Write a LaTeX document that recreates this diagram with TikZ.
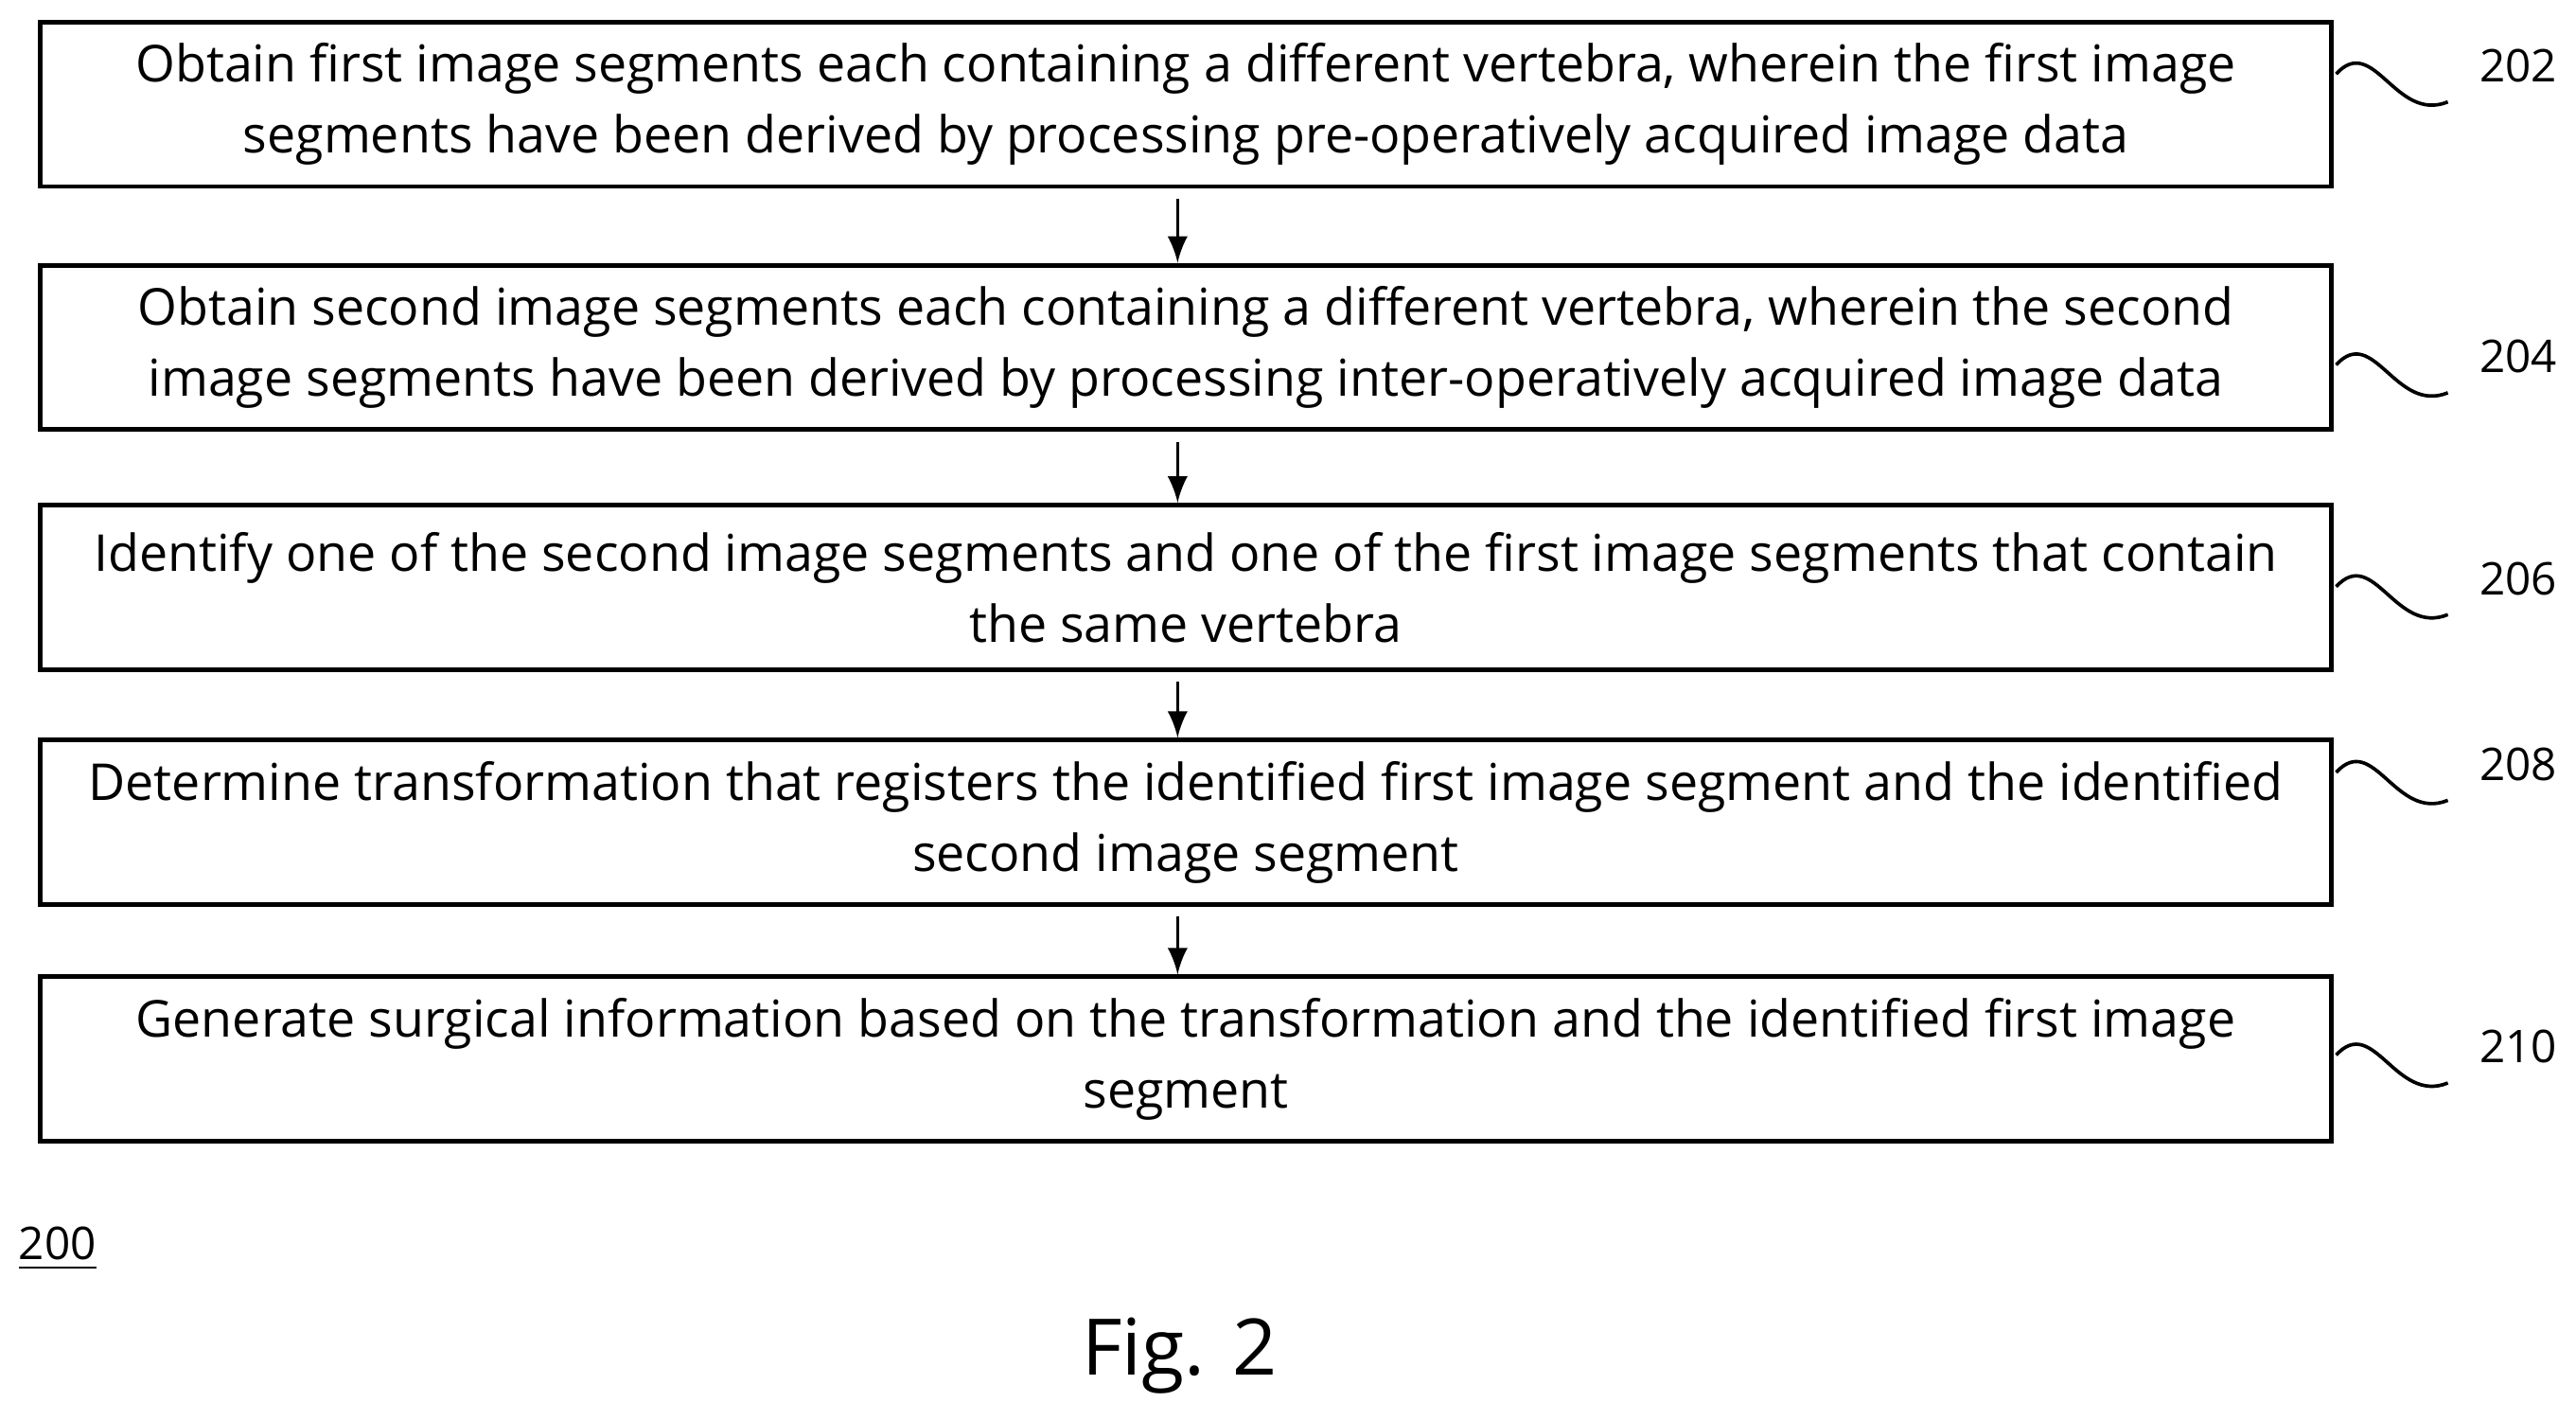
\documentclass[tikz,border=0pt]{standalone}
\usepackage{fontspec}
\setmainfont{Open Sans}
\begin{document}
\begin{tikzpicture}[x=0.01cm,y=-0.01cm,
  stepbox/.style={draw,line width=0.8pt,inner sep=0pt,anchor=north west,
    minimum width=13.94cm,minimum height=1cm,align=center,font=\fontsize{8.8}{12.2}\selectfont},
  arr/.style={-latex,line width=0.6pt},
  sq/.style={line width=0.6pt},
  lbl/.style={font=\fontsize{7.8}{9}\selectfont}]
\useasboundingbox (0,0) rectangle (1568,864);
\fill[white] (0,0) rectangle (1568,864);
\node[stepbox] (b1) at (23,12) {Obtain first image segments each containing a different vertebra, wherein the first image\\segments have been derived by processing pre-operatively acquired image data};
\node[stepbox] (b2) at (23,160) {Obtain second image segments each containing a different vertebra, wherein the second\\image segments have been derived by processing inter-operatively acquired image data};
\node[stepbox] (b3) at (23,306) {Identify one of the second image segments and one of the first image segments that contain\\the same vertebra};
\node[stepbox] (b4) at (23,449) {Determine transformation that registers the identified first image segment and the identified\\second image segment};
\node[stepbox] (b5) at (23,593) {Generate surgical information based on the transformation and the identified first image\\segment};
\foreach \a/\b in {b1/b2,b2/b3,b3/b4,b4/b5}
  \draw[arr] ([xshift=-0.5mm,yshift=-0.6mm]\a.south) -- ([xshift=-0.5mm]\b.north);
\foreach \n/\y/\t in {l202/40/202,l204/217/204,l206/352/206,l208/465/208,l210/637/210}{
  \node[lbl] (\n) at (1533,\y) {\t};
  \coordinate (\n s) at (1422,\y+5);
  \coordinate (\n e) at (1490,\y+22);
  \draw[sq] (\n s) .. controls (1445,\y-20) and (1458,\y+35) .. (\n e);
}
\node[lbl] (n200) at (35,760) {\underline{200}};
\node[font=\fontsize{13.5}{16}\selectfont] (fig) at (718,825) {Fig. 2};
\end{tikzpicture}
\end{document}
